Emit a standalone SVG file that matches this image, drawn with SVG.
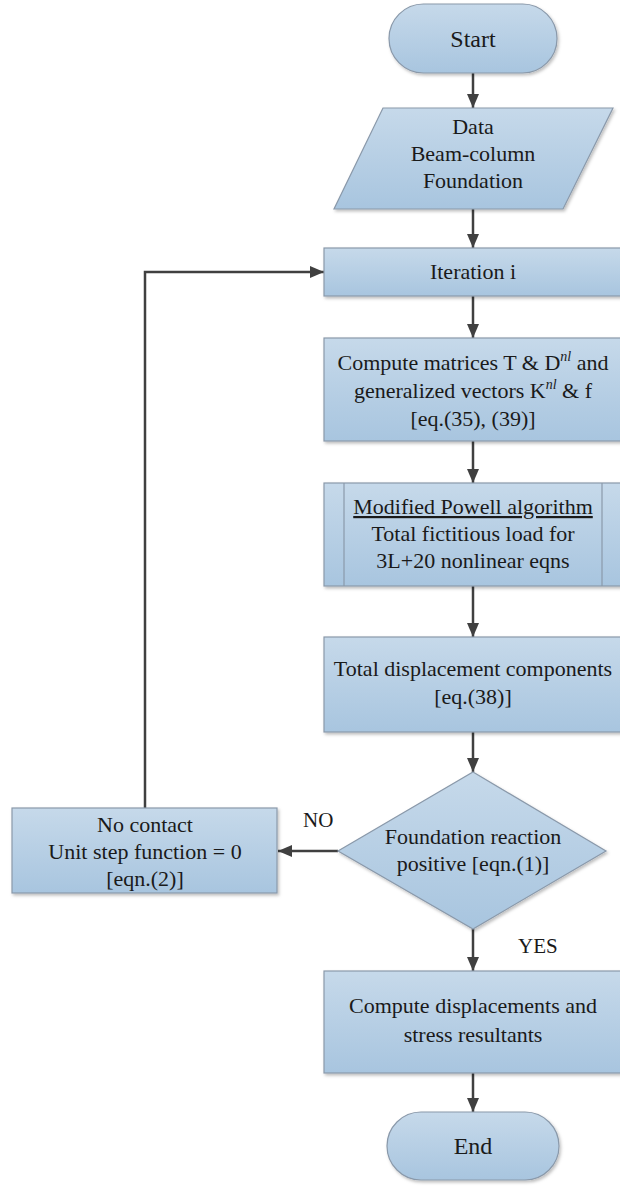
<svg xmlns="http://www.w3.org/2000/svg" width="620" height="1186" viewBox="0 0 620 1186">
<defs>
<linearGradient id="g" x1="0" y1="0" x2="0" y2="1">
<stop offset="0" stop-color="#c6d9ea"/>
<stop offset="1" stop-color="#a8c5df"/>
</linearGradient>
<filter id="sh" x="-10%" y="-10%" width="120%" height="130%">
<feDropShadow dx="1.5" dy="2" stdDeviation="1.5" flood-color="#000" flood-opacity="0.25"/>
</filter>
<marker id="arr" viewBox="0 0 14 12" refX="14" refY="6" markerWidth="14" markerHeight="12" markerUnits="userSpaceOnUse" orient="auto">
<path d="M0,0 L14,6 L0,12 Z" fill="#404040"/>
</marker>
<style>
.n{fill:url(#g);stroke:#8a99aa;stroke-width:1.2;filter:url(#sh)}
.t{font-family:"Liberation Serif","Times New Roman",serif;font-size:22px;fill:#1a1a1a;text-anchor:middle}
.big{font-size:24px}
.lab{font-family:"Liberation Serif","Times New Roman",serif;font-size:21px;fill:#1a1a1a}
.sup{font-style:italic;font-size:14px}
.c2{fill:none;stroke:#404040;stroke-width:2.5;marker-end:url(#arr)}
</style>
</defs>
<g id="connectors">
<line class="c2" x1="473" y1="73" x2="473" y2="108"/>
<line class="c2" x1="473" y1="209" x2="473" y2="248"/>
<line class="c2" x1="473" y1="296" x2="473" y2="338"/>
<line class="c2" x1="473" y1="441" x2="473" y2="483"/>
<line class="c2" x1="473" y1="586" x2="473" y2="637"/>
<line class="c2" x1="473" y1="732" x2="473" y2="772"/>
<line class="c2" x1="473" y1="929" x2="473" y2="971"/>
<line class="c2" x1="473" y1="1073" x2="473" y2="1112"/>
<line class="c2" x1="338" y1="851" x2="278" y2="851"/>
<polyline class="c2" points="145,808 145,272 324,272"/>
<text class="lab" x="303" y="827">NO</text>
<text class="lab" x="518" y="953">YES</text>
</g>
<g id="start">
<rect class="n" x="389" y="4" width="168" height="69" rx="34.5" ry="34.5"/>
<text class="t big" x="473" y="47">Start</text>
</g>
<g id="data">
<polygon class="n" points="383,108 613,108 563,209 334,209"/>
<text class="t" x="473" y="134">Data</text>
<text class="t" x="473" y="161">Beam-column</text>
<text class="t" x="473" y="188">Foundation</text>
</g>
<g id="iteration">
<rect class="n" x="324" y="248" width="298" height="48"/>
<text class="t" x="473" y="279">Iteration i</text>
</g>
<g id="compute">
<rect class="n" x="324" y="338" width="298" height="103"/>
<text class="t" x="473" y="370">Compute matrices T &amp; D<tspan class="sup" dy="-9">nl</tspan><tspan dy="9"> and</tspan></text>
<text class="t" x="473" y="398">generalized vectors K<tspan class="sup" dy="-9">nl</tspan><tspan dy="9"> &amp; f</tspan></text>
<text class="t" x="473" y="426">[eq.(35), (39)]</text>
</g>
<g id="powell">
<rect class="n" x="324" y="483" width="298" height="103"/>
<line x1="344" y1="483" x2="344" y2="586" stroke="#8a99aa" stroke-width="1.2"/>
<line x1="602" y1="483" x2="602" y2="586" stroke="#8a99aa" stroke-width="1.2"/>
<text class="t" x="473" y="514" text-decoration="underline">Modified Powell algorithm</text>
<text class="t" x="473" y="541">Total fictitious load for</text>
<text class="t" x="473" y="568">3L+20 nonlinear eqns</text>
</g>
<g id="displacement">
<rect class="n" x="324" y="637" width="298" height="95"/>
<text class="t" x="473" y="676">Total displacement components</text>
<text class="t" x="473" y="704">[eq.(38)]</text>
</g>
<g id="decision">
<polygon class="n" points="473,772 606,851 473,929 338,851"/>
<text class="t" x="473" y="844">Foundation reaction</text>
<text class="t" x="473" y="871">positive [eqn.(1)]</text>
</g>
<g id="nocontact">
<rect class="n" x="12" y="808" width="265" height="85"/>
<text class="t" x="145" y="832">No contact</text>
<text class="t" x="145" y="859">Unit step function = 0</text>
<text class="t" x="145" y="886">[eqn.(2)]</text>
</g>
<g id="final">
<rect class="n" x="324" y="971" width="298" height="102"/>
<text class="t" x="473" y="1013">Compute displacements and</text>
<text class="t" x="473" y="1042">stress resultants</text>
</g>
<g id="end">
<rect class="n" x="387" y="1112" width="172" height="68" rx="34" ry="34"/>
<text class="t big" x="473" y="1154">End</text>
</g>
</svg>
